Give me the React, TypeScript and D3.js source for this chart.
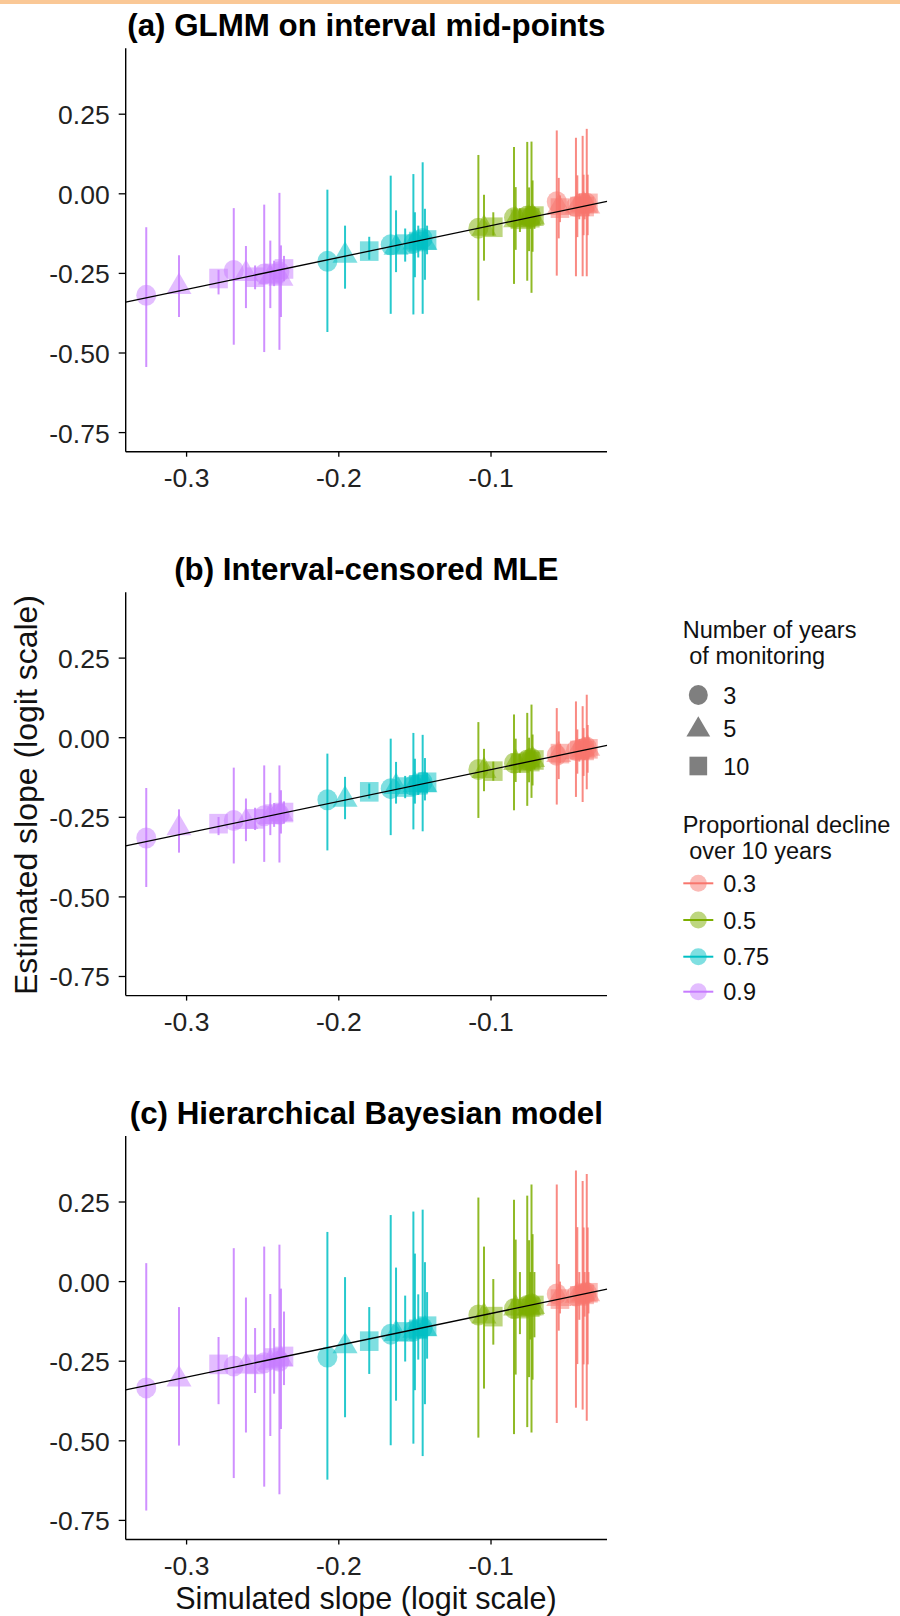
import React from "react";
import * as d3 from "d3";

// ---------- data ----------
const declineLevels = ["0.3", "0.5", "0.75", "0.9"];
const declineColours = ["#F8766D", "#7CAE00", "#00BFC4", "#C77CFF"];
const yearLevels = ["3", "5", "10"];
const panelTitles = [
  "(a) GLMM on interval mid-points",
  "(b) Interval-censored MLE",
  "(c) Hierarchical Bayesian model",
];
const xTickValues = [-0.3, -0.2, -0.1];
const xTickLabels = ["-0.3", "-0.2", "-0.1"];
const yTickValues = [0.25, 0, -0.25, -0.5, -0.75];
const yTickLabels = ["0.25", "0.00", "-0.25", "-0.50", "-0.75"];

// years of monitoring of each scenario (same order in every group)
const scenarioYears = ["3", "5", "10", "3", "5", "10", "3", "5", "10", "3", "5", "10"];

// simulated slopes (x) per decline group
const simSlope03 = [-0.0568, -0.0555, -0.0547, -0.0442, -0.0433, -0.042, -0.0398, -0.0392, -0.0385, -0.0371, -0.0365, -0.036];
const simSlope05 = [-0.1083, -0.1046, -0.0985, -0.0849, -0.0838, -0.081, -0.0762, -0.075, -0.0742, -0.0734, -0.0727, -0.0715];
const simSlope075 = [-0.2075, -0.1959, -0.18, -0.1659, -0.1624, -0.1564, -0.151, -0.15, -0.1478, -0.1449, -0.1434, -0.142];
const simSlope09 = [-0.3265, -0.305, -0.279, -0.269, -0.261, -0.255, -0.249, -0.245, -0.2425, -0.239, -0.238, -0.236];

// panel (a)
const est03A = [-0.025, -0.04, -0.045, -0.04, -0.035, -0.04, -0.03, -0.03, -0.04, -0.03, -0.035, -0.03];
const lo03A = [-0.257, -0.14, -0.089, -0.259, -0.136, -0.08, -0.259, -0.13, -0.08, -0.259, -0.13, -0.07];
const hi03A = [0.199, 0.05, -0.005, 0.176, 0.058, 0.0, 0.182, 0.06, 0.0, 0.204, 0.06, -0.005];
const est05A = [-0.108, -0.105, -0.105, -0.075, -0.078, -0.08, -0.07, -0.073, -0.075, -0.072, -0.07, -0.07];
const lo05A = [-0.335, -0.21, -0.131, -0.283, -0.176, -0.12, -0.273, -0.18, -0.11, -0.311, -0.182, -0.11];
const hi05A = [0.122, -0.003, -0.058, 0.147, 0.021, -0.045, 0.163, 0.02, -0.04, 0.164, 0.042, -0.04];
const est075A = [-0.212, -0.19, -0.18, -0.16, -0.165, -0.158, -0.155, -0.148, -0.15, -0.14, -0.15, -0.145];
const lo075A = [-0.434, -0.298, -0.207, -0.377, -0.246, -0.213, -0.379, -0.262, -0.2, -0.377, -0.27, -0.19];
const hi075A = [0.013, -0.1, -0.135, 0.057, -0.052, -0.109, 0.062, -0.058, -0.1, 0.099, -0.047, -0.1];
const est09A = [-0.319, -0.288, -0.266, -0.241, -0.247, -0.262, -0.252, -0.258, -0.25, -0.245, -0.262, -0.236];
const lo09A = [-0.544, -0.387, -0.316, -0.474, -0.359, -0.3, -0.497, -0.359, -0.29, -0.49, -0.387, -0.275];
const hi09A = [-0.105, -0.193, -0.239, -0.045, -0.164, -0.225, -0.034, -0.147, -0.21, 0.003, -0.162, -0.195];

// panel (b)
const est03B = [-0.055, -0.05, -0.05, -0.04, -0.04, -0.04, -0.035, -0.035, -0.04, -0.03, -0.03, -0.035];
const lo03B = [-0.21, -0.13, -0.08, -0.186, -0.113, -0.075, -0.202, -0.12, -0.07, -0.162, -0.11, -0.065];
const hi03B = [0.093, 0.02, -0.02, 0.114, 0.026, -0.005, 0.099, 0.03, 0.0, 0.135, 0.04, 0.0];
const est05B = [-0.1, -0.1, -0.105, -0.08, -0.075, -0.08, -0.07, -0.07, -0.075, -0.065, -0.065, -0.07];
const lo05B = [-0.252, -0.168, -0.135, -0.228, -0.139, -0.11, -0.214, -0.14, -0.105, -0.189, -0.15, -0.1];
const hi05B = [0.049, -0.035, -0.075, 0.073, -0.003, -0.05, 0.078, 0.0, -0.045, 0.104, 0.01, -0.04];
const est075B = [-0.195, -0.19, -0.17, -0.16, -0.15, -0.155, -0.15, -0.145, -0.148, -0.14, -0.145, -0.14];
const lo075B = [-0.354, -0.256, -0.191, -0.306, -0.207, -0.19, -0.288, -0.207, -0.18, -0.294, -0.197, -0.175];
const hi075B = [-0.05, -0.123, -0.144, -0.003, -0.076, -0.12, 0.015, -0.066, -0.115, 0.009, -0.064, -0.11];
const est09B = [-0.315, -0.28, -0.27, -0.26, -0.26, -0.255, -0.245, -0.245, -0.24, -0.24, -0.235, -0.235];
const lo09B = [-0.469, -0.361, -0.306, -0.395, -0.325, -0.29, -0.39, -0.306, -0.28, -0.392, -0.301, -0.27];
const hi09B = [-0.158, -0.225, -0.249, -0.094, -0.191, -0.22, -0.087, -0.173, -0.205, -0.087, -0.165, -0.2];

// panel (c)
const est03C = [-0.039, -0.05, -0.055, -0.045, -0.04, -0.045, -0.04, -0.035, -0.04, -0.035, -0.035, -0.035];
const lo03C = [-0.444, -0.154, -0.1, -0.396, -0.259, -0.12, -0.402, -0.26, -0.11, -0.437, -0.26, -0.1];
const hi03C = [0.305, 0.055, 0.0, 0.349, 0.171, 0.03, 0.316, 0.17, 0.03, 0.338, 0.17, 0.03];
const est05C = [-0.105, -0.105, -0.11, -0.085, -0.08, -0.085, -0.075, -0.08, -0.08, -0.07, -0.075, -0.075];
const lo05C = [-0.49, -0.336, -0.198, -0.479, -0.292, -0.165, -0.457, -0.3, -0.182, -0.474, -0.308, -0.175];
const hi05C = [0.264, 0.11, 0.008, 0.257, 0.132, 0.03, 0.27, 0.13, 0.03, 0.305, 0.149, 0.03];
const est075C = [-0.237, -0.198, -0.187, -0.165, -0.16, -0.158, -0.155, -0.15, -0.15, -0.145, -0.145, -0.14];
const lo075C = [-0.622, -0.426, -0.29, -0.514, -0.374, -0.251, -0.509, -0.341, -0.245, -0.548, -0.385, -0.242];
const hi075C = [0.156, 0.014, -0.08, 0.209, 0.044, -0.044, 0.22, 0.088, -0.04, 0.226, 0.061, -0.033];
const est09C = [-0.334, -0.303, -0.26, -0.265, -0.262, -0.26, -0.255, -0.25, -0.24, -0.25, -0.24, -0.235];
const lo09C = [-0.719, -0.515, -0.385, -0.617, -0.474, -0.35, -0.644, -0.485, -0.352, -0.668, -0.463, -0.325];
const hi09C = [0.058, -0.08, -0.174, 0.105, -0.05, -0.146, 0.11, -0.039, -0.146, 0.116, -0.022, -0.094];

// ---------- assembled tables ----------
const simSlopes = [simSlope03, simSlope05, simSlope075, simSlope09];
const panelData = [
  { est: [est03A, est05A, est075A, est09A], lo: [lo03A, lo05A, lo075A, lo09A], hi: [hi03A, hi05A, hi075A, hi09A] },
  { est: [est03B, est05B, est075B, est09B], lo: [lo03B, lo05B, lo075B, lo09B], hi: [hi03B, hi05B, hi075B, hi09B] },
  { est: [est03C, est05C, est075C, est09C], lo: [lo03C, lo05C, lo075C, lo09C], hi: [hi03C, hi05C, hi075C, hi09C] },
];

type Row = { x: number; est: number; lo: number; hi: number; g: number; years: string };
function rowsFor(p: number): Row[] {
  const rows: Row[] = [];
  for (let g = 3; g >= 0; g--) {
    simSlopes[g].forEach((xv, i) => {
      rows.push({
        x: xv,
        est: panelData[p].est[g][i],
        lo: panelData[p].lo[g][i],
        hi: panelData[p].hi[g][i],
        g,
        years: scenarioYears[i],
      });
    });
  }
  return rows;
}

// ---------- layout ----------
const W = 900;
const H = 1616;
const FONT = "'Liberation Sans', Arial, Helvetica, sans-serif";
const plotLeft = 125.7;
const plotRight = 607;
const plotTop0 = 48.3;
const plotBottom0 = 451.7;
const panelStep = 543.9;

const xScale = d3.scaleLinear().domain([-0.34, -0.0238]).range([plotLeft, plotRight]);
const yScaleFor = (p: number) =>
  d3.scaleLinear().domain([-0.81, 0.457]).range([plotBottom0 + p * panelStep, plotTop0 + p * panelStep]);

function Shape({ years, cx, cy, fill, opacity, scale = 1 }: any) {
  if (years === "3")
    return <ellipse cx={cx} cy={cy} rx={10 * scale} ry={10.5 * scale} fill={fill} fillOpacity={opacity} />;
  if (years === "5") {
    const w = 12.5 * scale, t = 13 * scale, b = 8.5 * scale;
    return (
      <path
        d={`M${cx - w},${cy + b}L${cx + w},${cy + b}L${cx},${cy - t}Z`}
        fill={fill}
        fillOpacity={opacity}
      />
    );
  }
  const sx = 9.3 * scale, sy = 9.8 * scale;
  return <rect x={cx - sx} y={cy - sy} width={2 * sx} height={2 * sy} fill={fill} fillOpacity={opacity} />;
}

function Panel({ p }: { p: number }) {
  const y = yScaleFor(p);
  const rows = rowsFor(p);
  const top = plotTop0 + p * panelStep;
  const bottom = plotBottom0 + p * panelStep;
  const line = d3
    .line<number>()
    .x((d) => xScale(d))
    .y((d) => y(d));
  const dom = xScale.domain();
  return (
    <g>
      <text
        x={(plotLeft + plotRight) / 2}
        y={36 + p * panelStep}
        textAnchor="middle"
        fontFamily={FONT}
        fontWeight="bold"
        fontSize={31.3}
        fill="#000"
      >
        {panelTitles[p]}
      </text>
      {rows.map((r, i) => (
        <Shape key={"pt" + i} years={r.years} cx={xScale(r.x)} cy={y(r.est)} fill={declineColours[r.g]} opacity={0.5} />
      ))}
      {rows.map((r, i) => (
        <line
          key={"er" + i}
          x1={xScale(r.x)}
          x2={xScale(r.x)}
          y1={y(r.lo)}
          y2={y(r.hi)}
          stroke={declineColours[r.g]}
          strokeWidth={2}
          strokeOpacity={0.85}
        />
      ))}
      <path d={line([dom[0], dom[1]]) || ""} stroke="#000" strokeWidth={1.3} fill="none" />
      <line x1={plotLeft} x2={plotLeft} y1={top} y2={bottom} stroke="#000" strokeWidth={1.4} />
      <line x1={plotLeft} x2={plotRight} y1={bottom} y2={bottom} stroke="#000" strokeWidth={1.4} />
      {yTickValues.map((v, i) => (
        <g key={"yt" + i}>
          <line x1={plotLeft - 7} x2={plotLeft} y1={y(v)} y2={y(v)} stroke="#000" strokeWidth={1.3} />
          <text
            x={plotLeft - 16}
            y={y(v) + 10}
            textAnchor="end"
            fontFamily={FONT}
            fontSize={26.5}
            fill="#222"
          >
            {yTickLabels[i]}
          </text>
        </g>
      ))}
      {xTickValues.map((v, i) => (
        <g key={"xt" + i}>
          <line x1={xScale(v)} x2={xScale(v)} y1={bottom} y2={bottom + 5} stroke="#000" strokeWidth={1.3} />
          <text
            x={xScale(v)}
            y={bottom + 35.6}
            textAnchor="middle"
            fontFamily={FONT}
            fontSize={26.5}
            fill="#222"
          >
            {xTickLabels[i]}
          </text>
        </g>
      ))}
    </g>
  );
}

function Legend() {
  const shapeY = [695, 728.5, 766];
  const colY = [883.3, 920, 956.7, 991.7];
  const keyX = 698.3;
  const labX = 723.3;
  const ts = { fontFamily: FONT, fontSize: 23.5, fill: "#111" } as any;
  return (
    <g>
      <text x={682.7} y={637.5} {...ts}>Number of years</text>
      <text x={689.3} y={663.5} {...ts}>of monitoring</text>
      {yearLevels.map((yl, i) => (
        <g key={"sl" + i}>
          <Shape years={yl} cx={keyX} cy={shapeY[i]} fill="#7f7f7f" opacity={1} scale={0.95} />
          <text x={labX} y={shapeY[i] + 8.5} {...ts}>{yl}</text>
        </g>
      ))}
      <text x={682.7} y={832.5} {...ts}>Proportional decline</text>
      <text x={689.3} y={858.5} {...ts}>over 10 years</text>
      {declineLevels.map((dl, i) => (
        <g key={"cl" + i}>
          <line x1={keyX - 15} x2={keyX + 15} y1={colY[i]} y2={colY[i]} stroke={declineColours[i]} strokeWidth={2} />
          <circle cx={keyX} cy={colY[i]} r={8.5} fill={declineColours[i]} fillOpacity={0.5} />
          <text x={labX} y={colY[i] + 8.5} {...ts}>{dl}</text>
        </g>
      ))}
    </g>
  );
}

export default function App() {
  return (
    <svg
      width={W}
      height={H}
      viewBox={`0 0 ${W} ${H}`}
      style={{ position: "absolute", left: 0, top: 0, background: "#fff" }}
    >
      <rect x={0} y={0} width={W} height={H} fill="#fff" />
      <rect x={0} y={0} width={W} height={4} fill="#FAC896" />
      {[0, 1, 2].map((p) => (
        <Panel key={p} p={p} />
      ))}
      <text
        transform={`translate(37,795) rotate(-90)`}
        textAnchor="middle"
        fontFamily={FONT}
        fontSize={31}
        textLength={400}
        lengthAdjust="spacingAndGlyphs"
        fill="#111"
      >
        Estimated slope (logit scale)
      </text>
      <text
        x={366}
        y={1609}
        textAnchor="middle"
        fontFamily={FONT}
        fontSize={30.5}
        fill="#111"
      >
        Simulated slope (logit scale)
      </text>
      <Legend />
    </svg>
  );
}
